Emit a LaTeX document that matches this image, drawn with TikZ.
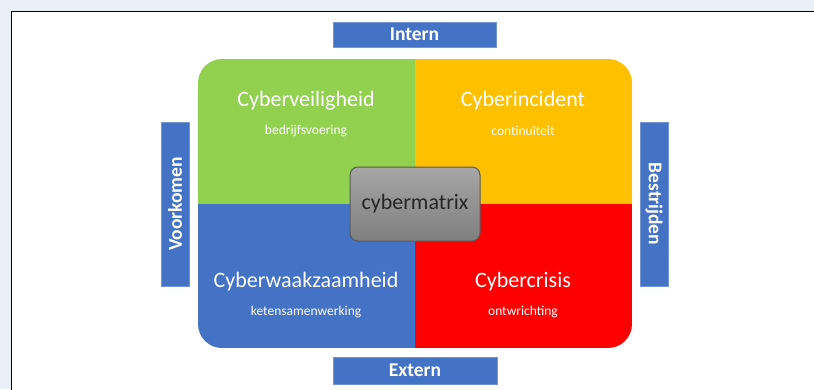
\documentclass[tikz,border=0pt]{standalone}
\usepackage{fontspec}
\setmainfont{Carlito}
\definecolor{pagebg}{HTML}{E9F0F8}
\definecolor{cgreen}{HTML}{92D050}
\definecolor{corange}{HTML}{FFC000}
\definecolor{cblue}{HTML}{4472C4}
\definecolor{cred}{HTML}{FF0000}
\definecolor{cgreytop}{HTML}{A6A6A6}
\definecolor{cgreybot}{HTML}{7F7F7F}
\tikzset{
  quadtitle/.style = {text=white, inner sep=0pt,
    font=\fontsize{22}{22}\selectfont},
  quadsub/.style = {text=white, inner sep=0pt,
    font=\fontsize{13.5}{13.5}\selectfont},
  sidebox/.style = {fill=cblue, draw=cblue!75!white, text=white,
    inner sep=0pt, font=\bfseries\fontsize{19.5}{19.5}\selectfont},
  matrixbox/.style = {rounded corners=8pt, draw=black!65, line width=1pt,
    top color=cgreytop, bottom color=cgreybot, text=black!85,
    minimum width=130pt, minimum height=74pt,
    font=\fontsize{22}{22}\selectfont}
}

\begin{document}
\begin{tikzpicture}[x=1pt, y=-1pt]
    \useasboundingbox (0,0) rectangle (814,389);
    \fill[pagebg] (0,0) rectangle (814,389);
    \draw[line width=1.5pt, fill=white] (11.5,11.5) rectangle (830,400);

    % quadrants
    \begin{scope}
        \clip[rounded corners=24pt] (198,59) rectangle (632,348);
        \fill[cgreen] (198,59) rectangle (415,204);
        \fill[corange] (415,59) rectangle (632,204);
        \fill[cblue] (198,204) rectangle (415,348);
        \fill[cred] (415,204) rectangle (632,348);
    \end{scope}

    \node[quadtitle] (veilig) at (306,101) {Cyberveiligheid};
    \node[quadsub] (veiligsub) at (306,131) {bedrijfsvoering};
    \node[quadtitle] (incident) at (523,101) {Cyberincident};
    \node[quadsub] (incidentsub) at (523,131) {continuïteit};
    \node[quadtitle] (waakzaam) at (306,282) {Cyberwaakzaamheid};
    \node[quadsub] (waakzaamsub) at (306,312) {ketensamenwerking};
    \node[quadtitle] (crisis) at (523,282) {Cybercrisis};
    \node[quadsub] (crisissub) at (523,312) {ontwrichting};

    \node[matrixbox] (matrix) at (415,204) {cybermatrix};

    % sides
    \node[sidebox, minimum width=163pt, minimum height=25pt]
        (intern) at (414.5,34.5) {Intern};
    \node[sidebox, minimum width=164pt, minimum height=27pt]
        (extern) at (415,370.5) {Extern};
    \node[sidebox, rotate=90, minimum width=164pt, minimum height=28pt]
        (voorkomen) at (175,204) {Voorkomen};
    \node[sidebox, rotate=-90, minimum width=164pt, minimum height=28pt]
        (bestrijden) at (654,204) {Bestrijden};
\end{tikzpicture}
\end{document}
